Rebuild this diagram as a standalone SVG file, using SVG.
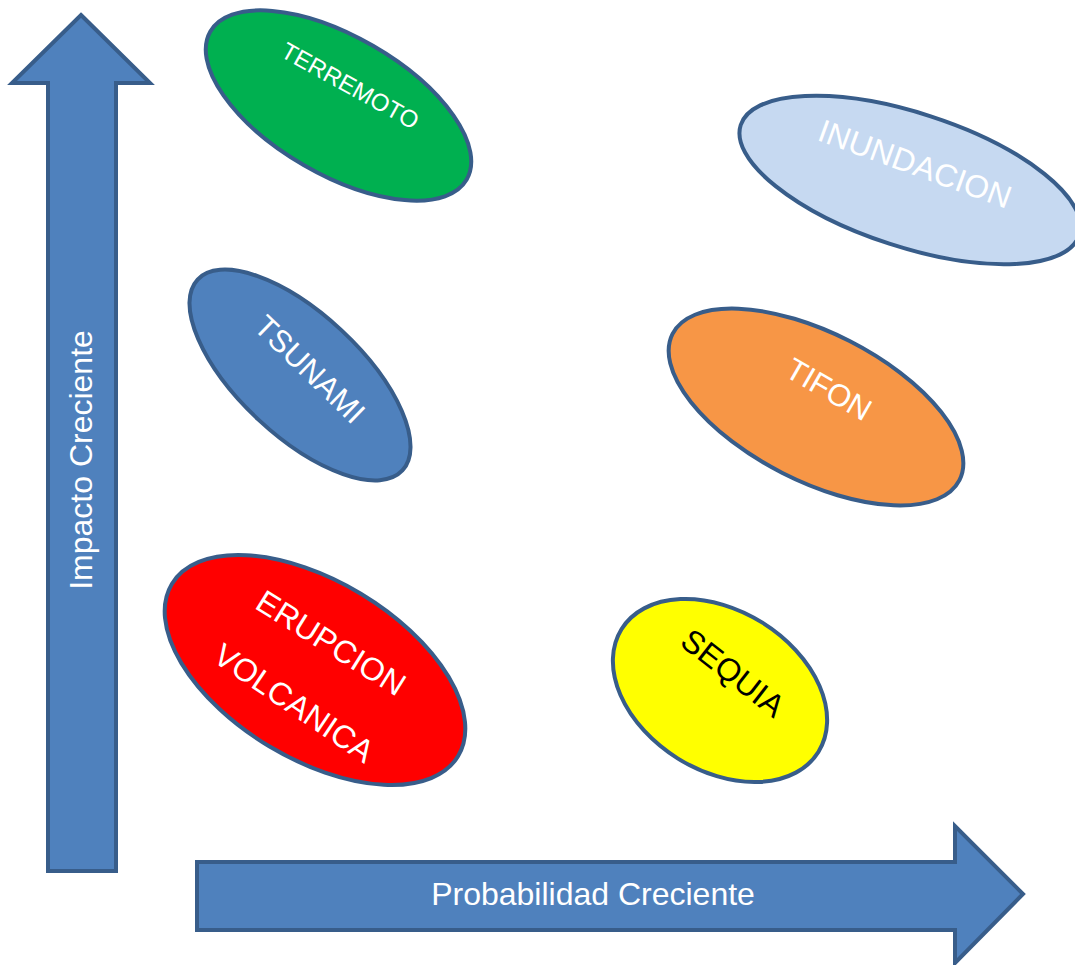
<svg xmlns="http://www.w3.org/2000/svg" width="1075" height="965" viewBox="0 0 1075 965">
<style>
.arrow{fill:#4f81bd;stroke:#385d8a;stroke-width:4;stroke-linejoin:miter}
.ell{stroke:#385d8a;stroke-width:4}
.t{font-family:"Liberation Sans",Arial,sans-serif;fill:#fff;text-anchor:middle}
</style>
<rect width="1075" height="965" fill="#fff"/>
<g id="connectors">
<g id="axis-impact">
<polygon class="arrow" points="81,15 150,83 116,83 116,871 48,871 48,83 12,83"/>
<text class="t" font-size="32" transform="translate(81,460) rotate(-90)" y="11">Impacto Creciente</text>
</g>
<g id="axis-prob">
<polygon class="arrow" points="197,862 955,862 955,826 1023,894 955,963 955,930 197,930"/>
<text class="t" font-size="32" x="593" y="905">Probabilidad Creciente</text>
</g>
</g>
<g id="terremoto">
<ellipse class="ell" fill="#00b050" cx="338.5" cy="105.5" rx="148" ry="69" transform="rotate(30 338.5 105.5)"/>
<text class="t" font-size="24" transform="translate(350,86) rotate(29)" y="8">TERREMOTO</text>
</g>
<g id="inundacion">
<ellipse class="ell" fill="#c6d9f1" cx="910" cy="180" rx="178" ry="67" transform="rotate(18 910 180)"/>
<text class="t" font-size="32" transform="translate(915,164) rotate(20)" y="11">INUNDACION</text>
</g>
<g id="tsunami">
<ellipse class="ell" fill="#4f81bd" cx="300" cy="375" rx="140" ry="61" transform="rotate(43 300 375)"/>
<text class="t" font-size="31" transform="translate(310,369) rotate(44)" y="11">TSUNAMI</text>
</g>
<g id="tifon">
<ellipse class="ell" fill="#f79646" cx="816" cy="407" rx="161" ry="74" transform="rotate(27 816 407)"/>
<text class="t" font-size="31" transform="translate(829,389) rotate(30)" y="11">TIFON</text>
</g>
<g id="erupcion">
<ellipse class="ell" fill="#ff0000" cx="315" cy="670" rx="167" ry="89" transform="rotate(31 315 670)"/>
<text class="t" font-size="32" transform="translate(331,643) rotate(32)" y="11">ERUPCION</text>
<text class="t" font-size="32" transform="translate(294,703) rotate(34)" y="11">VOLCANICA</text>
</g>
<g id="sequia">
<ellipse class="ell" fill="#ffff00" cx="720" cy="690.5" rx="116" ry="80" transform="rotate(32 720 690.5)"/>
<text class="t" font-size="32" style="fill:#000" transform="translate(733,673) rotate(38)" y="11">SEQUIA</text>
</g>
</svg>
